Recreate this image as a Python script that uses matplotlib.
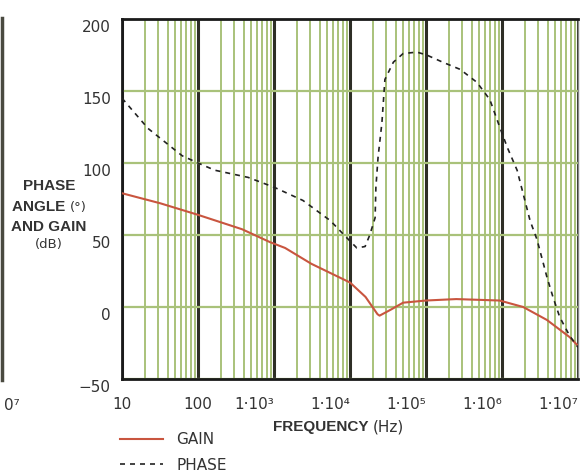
import numpy as np
import matplotlib
matplotlib.use('Agg')
import matplotlib.pyplot as plt
from matplotlib.transforms import ScaledTranslation
from matplotlib.lines import Line2D

# gain curve (dB)
gain_freq = [10, 32, 100, 380, 890, 1400, 3100, 10000, 16000, 23000, 24500,
             34000, 50000, 100000, 250000, 930000, 1.9e6, 3.9e6, 7.8e6, 1e7]
gain_db = [79, 72, 64, 54, 45, 41, 30, 17, 7, -5, -6,
           -2, 3, 4.5, 5.5, 4.5, 0, -9, -21, -27]

# phase curve (degrees)
phase_freq = [10, 22, 62, 100, 166, 457, 1020, 2400, 5500, 9100, 12300, 15800,
              18200, 21400, 21900, 23400, 26300, 28800, 37200, 50000, 76000,
              102000, 166000, 282000, 468000, 692000, 933000, 1.17e6, 1.58e6,
              2.0e6, 2.34e6, 2.88e6, 3.39e6, 3.89e6, 4.68e6, 5.75e6, 7.76e6, 1e7]
phase_deg = [145, 124, 105, 100, 95, 90, 83, 74, 60, 48, 41, 42,
             50, 62, 83, 104, 128, 158, 170, 176, 177,
             175, 170, 165, 156, 144, 125, 111, 95,
             74, 60, 47, 33, 21, 7, -7, -20, -28]

x_ticks = [10, 100, 1e3, 1e4, 1e5, 1e6, 1e7]
x_labels = ['10', '100', '1·10³', '1·10⁴', '1·10⁵', '1·10⁶', '1·10⁷']
y_ticks = [-50, 0, 50, 100, 150, 200]

green = '#a9c27a'
txt = '#333333'
bold = ['Liberation Sans', 'DejaVu Sans']

fig = plt.figure(figsize=(5.81, 4.72), dpi=100)
ax = fig.add_axes([122/581, 1-379/472, (578-122)/581, (379-19)/472])

ax.set_xscale('log')
ax.set_xlim(10, 1e7)
ax.set_ylim(-50, 200)

# grid
ax.set_xticks(x_ticks)
ax.set_xticklabels(x_labels)
ax.set_yticks(y_ticks)
ax.xaxis.set_minor_locator(matplotlib.ticker.LogLocator(base=10, subs=np.arange(2, 10)))
ax.xaxis.set_minor_formatter(matplotlib.ticker.NullFormatter())
ax.grid(which='minor', axis='x', color=green, lw=1.4)
ax.grid(which='major', axis='x', color='#2e2e26', lw=2.2)
ax.grid(which='major', axis='y', color=green, lw=1.6)
ax.set_axisbelow(True)

gain_line, = ax.plot(gain_freq, gain_db, color='#c9553f', lw=1.5, zorder=3)
phase_line, = ax.plot(phase_freq, phase_deg, color='#222222', lw=1.2,
                      dashes=(3, 3), zorder=3)

ax.tick_params(which='both', length=0, labelsize=11, labelcolor=txt)
ax.tick_params(axis='x', pad=13)
ax.tick_params(axis='y', pad=8)
for lbl in ax.get_xticklabels()[2:]:
    lbl.set_ha('right')
off = ScaledTranslation(0, -7/100, fig.dpi_scale_trans)
for lbl in ax.get_yticklabels():
    lbl.set_transform(lbl.get_transform() + off)

for s in ['left', 'bottom', 'top']:
    ax.spines[s].set_linewidth(2)
    ax.spines[s].set_color('#1a1a1a')
ax.spines['right'].set_linewidth(1)
ax.spines['right'].set_color('#888888')

# y label block
fig.text(49/581, 1-186/472, 'PHASE', family=bold, weight='bold', fontsize=11,
         color=txt, ha='center', va='center')
t = fig.text(12/581, 1-207/472, 'ANGLE ', family=bold, weight='bold', fontsize=11,
             color=txt, ha='left', va='center')
ax.annotate('(°)', xy=(1, 0.5), xycoords=t, va='center', ha='left',
            fontsize=9.5, color=txt)
fig.text(49/581, 1-227/472, 'AND GAIN', family=bold, weight='bold', fontsize=11,
         color=txt, ha='center', va='center')
fig.text(49/581, 1-245/472, '(dB)', fontsize=9.5, color=txt, ha='center', va='center')

# x label
t = fig.text(273/581, 1-427/472, 'FREQUENCY ', family=bold, weight='bold',
             fontsize=11, color=txt, ha='left', va='center')
ax.annotate('(Hz)', xy=(1, 0.5), xycoords=t, va='center', ha='left',
            fontsize=11, color=txt)

# edge of the neighbouring chart
fig.add_artist(Line2D([1.5/581, 1.5/581], [1-380/472, 1-18/472], color='#4a4a40', lw=2.5))
fig.text(4/581, 1-406/472, '0⁷', fontsize=11, color=txt, ha='left', va='center')

fig.legend([gain_line, phase_line], ['GAIN', 'PHASE'], loc='upper left',
           bbox_to_anchor=(120/581, 1-432/472), frameon=False, fontsize=11,
           handlelength=2.8, handletextpad=0.9, labelspacing=0.7,
           borderpad=0, borderaxespad=0, labelcolor=txt)

fig.savefig('out.png', dpi=100)
